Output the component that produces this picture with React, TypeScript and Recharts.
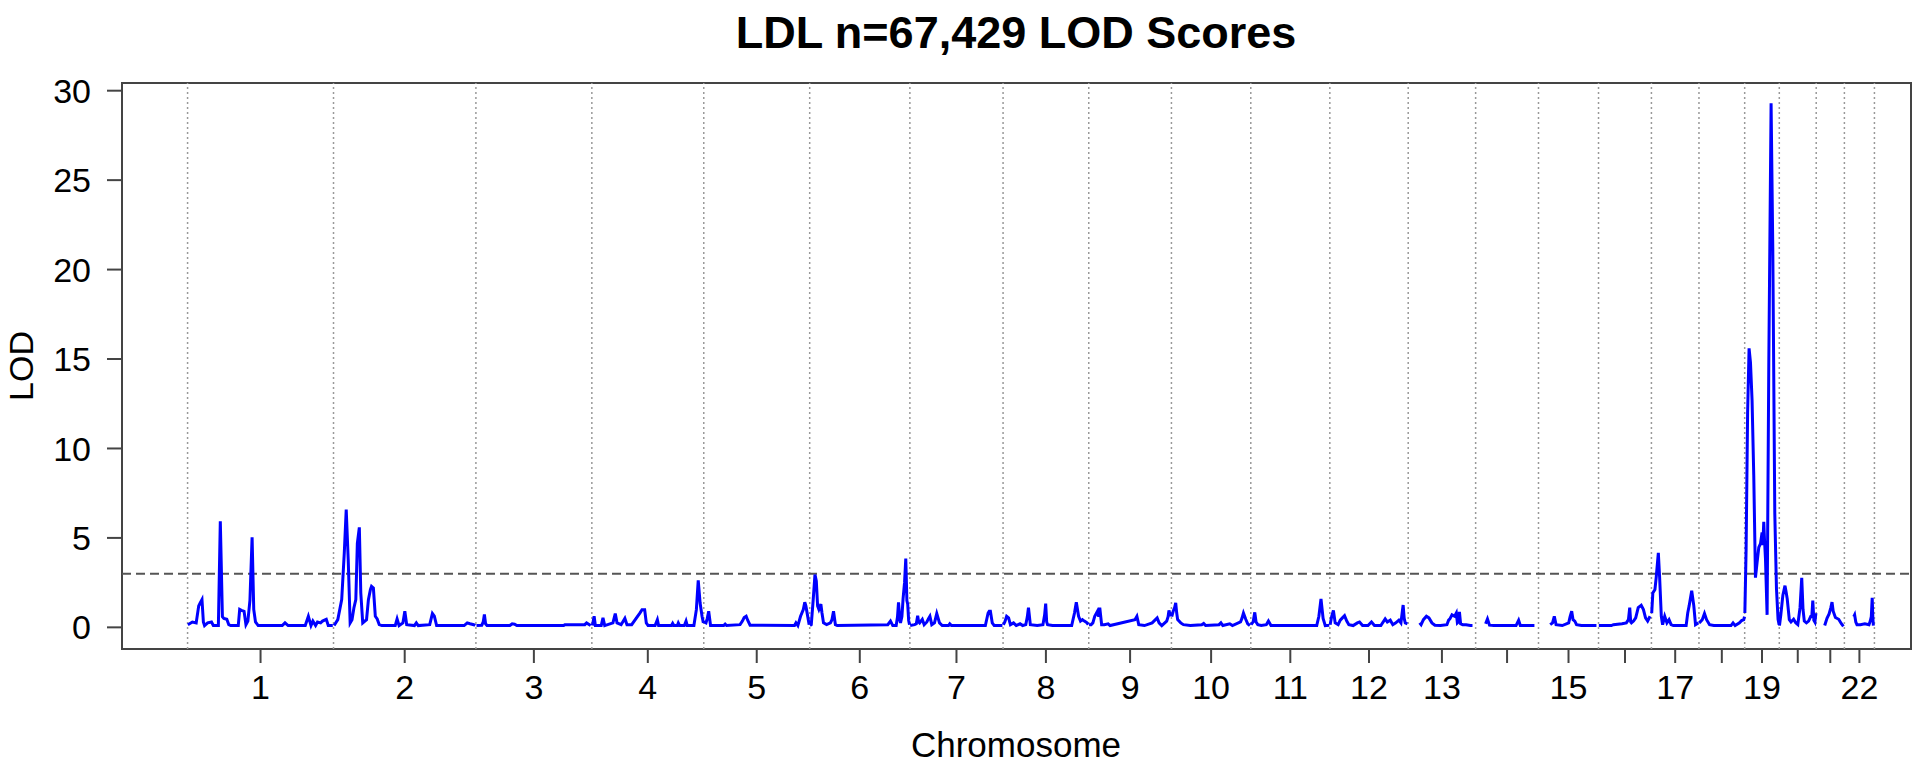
import React from 'react';
import { LineChart, Line, XAxis, YAxis, ReferenceLine, ReferenceArea } from 'recharts';

const FONT = "'Liberation Sans', Arial, Helvetica, sans-serif";

// chromosome lengths (Mb)
const chromLengthsMb = [249.25, 243.2, 198.02, 191.15, 180.92, 171.12, 159.14, 146.36, 141.21, 135.53, 135.01, 133.85, 115.17, 107.35, 102.53, 90.35, 81.2, 78.08, 59.13, 63.03, 48.13, 51.3];
const tickLabels = ['1', '2', '3', '4', '5', '6', '7', '8', '9', '10', '11', '12', '13', '', '15', '', '17', '', '19', '', '', '22'];
const yTicks = [0, 5, 10, 15, 20, 25, 30];
const threshold = 3;
const xDomain = [-112, 2943.5];
const yDomain = [-1.21, 30.43];

// [position within chromosome (Mb), LOD]
const chr1 = [[0.5,0.15],[8.2,0.3],[14.7,0.25],[19,1.2],[21.3,1.35],[24.6,1.55],[27,0.3],[29,0.1],[34.3,0.25],[40.8,0.3],[44,0.1],[52.6,0.1],[55.9,5.93],[59.5,0.6],[62,0.5],[67,0.45],[70.4,0.15],[73.6,0.1],[86.6,0.1],[89,1.0],[92,0.95],[96.5,0.9],[99.7,0.15],[103,0.35],[106.5,1.5],[110.2,5.03],[113,1.0],[116,0.3],[120.6,0.1],[161.7,0.1],[166.4,0.25],[171.7,0.1],[201,0.1],[206.3,0.62],[210.8,0.1],[214,0.35],[218.6,0.1],[221.9,0.3],[227.2,0.25],[230.4,0.35],[236.9,0.45],[240.3,0.1],[248,0.1]];
const chr2 = [[1,0.1],[7.3,0.43],[14,1.55],[18.4,4.16],[21.7,6.58],[25.1,3.79],[28.4,0.25],[31.6,0.43],[34.8,1.08],[38.1,1.55],[40.7,4.7],[44.1,5.59],[46.6,1.92],[49.9,0.25],[56.4,0.43],[59.6,1.55],[63,2.11],[64.9,2.29],[68.1,2.2],[71.4,0.62],[74.6,0.47],[78.1,0.15],[82.5,0.1],[105.4,0.1],[108.6,0.47],[112,0.1],[118.5,0.25],[121.8,0.9],[125,0.15],[138.2,0.1],[141.4,0.25],[144.7,0.1],[164.3,0.15],[168.9,0.77],[172.2,0.62],[176.1,0.1],[223.1,0.1],[228.4,0.25],[233,0.2],[239.5,0.15],[242,0.1]];
const chr3 = [[1,0.1],[10,0.12],[12.5,0.3],[14.5,0.72],[16.5,0.2],[19,0.1],[58,0.1],[62,0.2],[66,0.18],[70,0.1],[149.8,0.1],[152,0.15],[186,0.15],[189,0.25],[196,0.1]];
const chr4 = [[1,0.1],[3.9,0.62],[6,0.1],[16,0.1],[19,0.53],[22,0.1],[36,0.25],[40,0.77],[43,0.25],[50,0.15],[56.4,0.5],[60,0.15],[68,0.15],[82,0.8],[85.7,0.99],[90.2,0.99],[93,0.25],[96,0.1],[108,0.1],[111.9,0.43],[114,0.1],[136,0.1],[138,0.22],[140,0.1],[146,0.1],[147.7,0.25],[150,0.1],[158,0.1],[160.9,0.35],[163,0.1],[174.3,0.1],[178.5,0.99],[181.7,2.63],[184.9,1.36],[188.2,0.62],[190.5,0.25]];
const chr5 = [[0.5,0.3],[3.8,0.25],[6,0.5],[8.4,0.9],[11.6,0.1],[34,0.1],[36.5,0.18],[39,0.1],[62,0.15],[66,0.35],[69,0.55],[72.4,0.62],[75,0.4],[79.1,0.12],[155,0.1],[157.5,0.25],[160.7,0.1],[165.3,0.62],[170,1.0],[172.5,1.4],[174.4,1.2],[177.6,0.6],[180,0.15]];
const chr6 = [[0.5,0.1],[2.7,0.15],[6,1.55],[9,2.95],[11.3,2.6],[13.5,1.2],[15.7,1.0],[19.1,1.3],[21,0.8],[23.6,0.25],[28.9,0.15],[35.4,0.25],[38,0.43],[40.7,0.9],[43.9,0.15],[47.1,0.1],[133.4,0.15],[138,0.35],[141.9,0.1],[147.7,0.1],[150,0.6],[151.7,1.4],[154,0.4],[155.1,0.25],[157.5,0.6],[159.5,1.6],[162,2.5],[164.1,3.84],[166,1.5],[167.4,1.3],[169,0.4],[170.5,0.15]];
const chr7 = [[0.5,0.1],[8,0.15],[11,0.2],[13.3,0.65],[15,0.3],[16.6,0.25],[21.2,0.45],[24.4,0.15],[29,0.3],[32,0.5],[34.2,0.62],[37.4,0.15],[42,0.25],[45.9,0.77],[50.6,0.25],[55.2,0.1],[66,0.1],[68.1,0.2],[71,0.1],[128.9,0.1],[133.6,0.8],[135.5,0.9],[137.5,0.9],[140.7,0.25],[144,0.1],[158,0.1]];
const chr8 = [[0.5,0.15],[3,0.3],[6.1,0.62],[9.4,0.53],[12.6,0.15],[17.9,0.25],[22.4,0.1],[29,0.2],[33.5,0.1],[38.8,0.15],[41.5,0.6],[43.4,1.1],[46.6,0.15],[58.4,0.1],[68.1,0.15],[71,0.7],[72.8,1.33],[74.5,0.3],[76,0.15],[84.5,0.1],[117.2,0.1],[122,0.8],[125.1,1.4],[129,0.62],[132.3,0.35],[135.5,0.43],[138.9,0.35],[143.4,0.25],[145.5,0.15]];
const chr9 = [[0.5,0.15],[4,0.15],[7,0.25],[10.2,0.62],[14.9,0.9],[17,0.6],[18.8,1.1],[22,0.15],[26.5,0.15],[33.1,0.2],[36.4,0.1],[78.9,0.43],[82.2,0.62],[85.4,0.15],[95.1,0.1],[108.3,0.25],[116.8,0.53],[120.1,0.25],[124.7,0.1],[133.1,0.35],[135.5,0.6],[137,0.95],[139.7,0.62]];
const chr10 = [[0.5,0.6],[3,0.9],[5.5,1.1],[7.3,1.37],[9,0.8],[10.6,0.43],[15.9,0.25],[20.5,0.15],[32.3,0.1],[51.8,0.15],[55,0.22],[58.4,0.1],[81.3,0.15],[84.5,0.25],[87.8,0.1],[99.6,0.2],[104.2,0.1],[118,0.3],[120.4,0.5],[123,0.8],[126.9,0.45],[130.3,0.2],[134,0.1]];
const chr11 = [[0.5,0.15],[4,0.3],[6.8,0.84],[9,0.3],[12,0.15],[17.8,0.1],[26.5,0.15],[30.1,0.35],[34.5,0.1],[112.6,0.1],[116.3,0.62],[119.9,1.59],[123.5,0.5],[127.2,0.1],[134,0.12]];
const chr12 = [[0.5,0.15],[3.2,0.62],[6.1,0.95],[9.1,0.25],[14.2,0.15],[17.8,0.4],[21.5,0.53],[25.1,0.65],[28.9,0.35],[32.5,0.15],[39.8,0.1],[47,0.25],[50.7,0.3],[55.9,0.1],[65.2,0.1],[71.1,0.3],[76.2,0.1],[87.1,0.1],[94.5,0.47],[98.2,0.3],[103.2,0.4],[107.6,0.15],[112.7,0.25],[117.9,0.4],[121.4,0.25],[123.5,0.8],[125.2,1.25],[127,0.5],[128.8,0.25],[132.5,0.2]];
const chr13 = [[19.5,0.25],[22,0.15],[26,0.43],[31.1,0.62],[35.4,0.53],[40.5,0.25],[45.6,0.12],[55.2,0.1],[66.1,0.15],[69,0.4],[71.2,0.47],[74.8,0.7],[79.3,0.62],[82.2,0.8],[84,0.25],[85.7,0.3],[87.5,0.86],[89.5,0.2],[93.1,0.15],[98.9,0.15],[106.2,0.1],[109.8,0.1]];
const chr14 = [[17,0.2],[20.2,0.47],[23.7,0.12],[31.1,0.1],[69,0.1],[73.4,0.4],[76.3,0.1],[100.4,0.1]];
const chr15 = [[20,0.15],[24,0.25],[27,0.62],[30,0.15],[40.6,0.1],[51.6,0.25],[54,0.6],[56.7,0.9],[59,0.43],[62,0.35],[65,0.15],[73.4,0.1],[99,0.1]];
const chr16 = [[0.5,0.1],[21.9,0.1],[25.4,0.15],[40.1,0.2],[47.5,0.25],[51.1,0.43],[53.3,1.1],[55,0.3],[56.2,0.25],[59.8,0.35],[63.5,0.53],[67.8,1.1],[72.9,1.23],[76.7,0.99],[80.3,0.53],[83.9,0.35],[88,0.62]];
const chr17 = [[0.5,0.8],[2.4,1.92],[6,2.11],[8.2,2.8],[11.8,4.16],[14,2.8],[16.9,0.62],[19.1,0.15],[22.7,0.62],[26.5,0.25],[30.1,0.43],[33.6,0.15],[37.4,0.1],[59.3,0.1],[62,0.8],[64.4,1.2],[68.8,2.05],[72.4,1.2],[75.3,0.15],[80,0.25]];
const chr18 = [[0.5,0.25],[5.6,0.43],[9.4,0.77],[13,0.43],[18.1,0.15],[25.4,0.1],[54.7,0.1],[58.2,0.25],[61.8,0.1],[69.2,0.25],[72.9,0.38],[76.5,0.43],[77.8,0.6]];
const chr19 = [[0.3,0.8],[2.4,4.3],[5,12],[7.5,15.6],[9.9,14.8],[12.6,12.7],[15.5,8.5],[18.4,2.78],[21.2,3.63],[24.1,4.47],[27,4.68],[29.7,5.3],[31,4.6],[32.6,5.9],[34,4.8],[35.5,3.84],[38.3,0.7],[41.2,14.8],[45.1,29.3],[48,21.2],[51.4,6.4],[54.3,2.16],[57,0.45],[58.8,0.15]];
const chr20 = [[0.3,0.1],[2.6,0.7],[6.1,1.8],[9.7,2.33],[11.5,2.0],[13.5,1.6],[17.1,0.43],[20,0.3],[24.4,0.45],[28,0.25],[31.6,0.15],[35.4,1.1],[38.3,2.77],[40.5,1.0],[42.7,0.35],[46.3,0.25],[50,0.35],[53.6,0.6],[55.5,0.6],[57.2,1.5],[59,0.4],[60.8,0.3],[62.5,0.8]];
const chr21 = [[14.5,0.1],[18.4,0.5],[22,0.75],[25,1.1],[27,1.41],[29,0.9],[32.8,0.55],[38.4,0.45],[43,0.2],[46.5,0.05]];
const chr22 = [[16,0.6],[17.5,0.7],[19.5,0.3],[21.5,0.15],[27.2,0.15],[35,0.2],[42,0.15],[44.2,0.35],[46,0.6],[47.5,1.65],[48.5,0.6],[49.5,0.1]];

const profiles = [chr1, chr2, chr3, chr4, chr5, chr6, chr7, chr8, chr9, chr10, chr11, chr12, chr13, chr14, chr15, chr16, chr17, chr18, chr19, chr20, chr21, chr22];

const offsets: number[] = [];
let total = 0;
chromLengthsMb.forEach((len) => { offsets.push(total); total += len; });
const boundaries = [...offsets, total];
const tickPositions = offsets.map((o, i) => o + chromLengthsMb[i] / 2);

const data: { x: number; lod: number | null }[] = [];
profiles.forEach((pts, i) => {
  if (i > 0) data.push({ x: offsets[i], lod: null });
  pts.forEach(([p, l]) => data.push({ x: offsets[i] + p, lod: l }));
});

const fmtX = (v: number) => {
  const idx = tickPositions.findIndex((t) => Math.abs(t - v) < 1e-6);
  return idx >= 0 ? tickLabels[idx] : '';
};

export default function App() {
  return (
    <div style={{ position: 'absolute', left: 0, top: 0, width: 1920, height: 765, fontFamily: FONT, background: '#fff' }}>
      <LineChart width={1920} height={765} data={data} margin={{ top: 83, right: 9, bottom: 0, left: 0 }}>
        <XAxis
          type="number"
          dataKey="x"
          domain={xDomain}
          allowDataOverflow
          ticks={tickPositions}
          interval={0}
          tickFormatter={fmtX}
          height={116}
          tickSize={14}
          tickMargin={12}
          axisLine={false}
          tickLine={{ stroke: '#444', strokeWidth: 2 }}
          tick={{ fontSize: 34, fill: '#000', fontFamily: FONT }}
        />
        <YAxis
          type="number"
          domain={yDomain}
          allowDataOverflow
          ticks={yTicks}
          interval={0}
          width={122}
          tickSize={15}
          tickMargin={16}
          axisLine={false}
          tickLine={{ stroke: '#444', strokeWidth: 2 }}
          tick={{ fontSize: 34, fill: '#000', fontFamily: FONT }}
        />
        {boundaries.map((b, i) => (
          <ReferenceLine key={'b' + i} x={b} stroke="#999" strokeWidth={1.5} strokeDasharray="2 3" />
        ))}
        <ReferenceLine y={threshold} stroke="#555" strokeWidth={2} strokeDasharray="9 5" />
        <Line type="linear" dataKey="lod" stroke="#0000ff" strokeWidth={3} dot={false} activeDot={false} isAnimationActive={false} connectNulls={false} />
        <ReferenceArea x1={xDomain[0]} x2={xDomain[1]} y1={yDomain[0]} y2={yDomain[1]} fill="none" fillOpacity={0} stroke="#444" strokeWidth={2} />
      </LineChart>
      <svg width={1920} height={765} style={{ position: 'absolute', left: 0, top: 0, pointerEvents: 'none' }}>
        <text x={1016} y={48} textAnchor="middle" fontSize={45} fontWeight="bold" fontFamily={FONT} fill="#000">LDL n=67,429 LOD Scores</text>
        <text x={21} y={366} transform="rotate(-90, 21, 366)" textAnchor="middle" dominantBaseline="central" fontSize={34} fontFamily={FONT} fill="#000">LOD</text>
        <text x={1016} y={757} textAnchor="middle" fontSize={35} fontFamily={FONT} fill="#000">Chromosome</text>
      </svg>
    </div>
  );
}
